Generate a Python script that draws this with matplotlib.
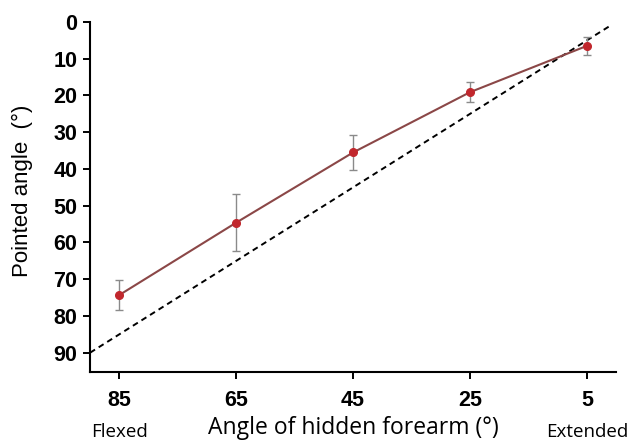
import matplotlib
matplotlib.use("Agg")
import matplotlib.pyplot as plt
import matplotlib.transforms as transforms
import numpy as np

# hidden forearm angle vs pointed angle
hidden = [85, 65, 45, 25, 5]
pointed = [74.3, 54.6, 35.5, 19.1, 6.5]
err = [4.2, 7.8, 4.8, 2.8, 2.5]
ident = [90, 0.7]

plt.rcParams['font.family'] = ['Liberation Sans', 'DejaVu Sans']

fig = plt.figure(figsize=(6.3, 4.4), dpi=100)
ax = fig.add_axes([0.143, 0.155, 0.835, 0.795])

ax.plot(ident, ident, color="black", linestyle=(0, (3, 2.2)), linewidth=1.4, zorder=1)
ax.errorbar(hidden, pointed, yerr=err, fmt="none", ecolor="#8a8a8a", elinewidth=1.0,
            capsize=3, capthick=1.0, zorder=2)
ax.plot(hidden, pointed, color="#8b4747", linewidth=1.5, zorder=3)
ax.plot(hidden, pointed, "o", color="#c1272d", markersize=5.5, zorder=4)

ax.set_xlim(90, 0)
ax.set_ylim(95.2, 0)
ax.set_xticks(hidden)
ax.set_yticks(np.arange(0, 100, 10))
ax.tick_params(labelsize=15.5, width=1.4, length=5)
ax.tick_params(axis="x", pad=8)
ax.tick_params(axis="y", pad=4)
for lab in ax.get_xticklabels() + ax.get_yticklabels():
    lab.set_fontweight("bold")

for s in ["top", "right"]:
    ax.spines[s].set_visible(False)
for s in ["left", "bottom"]:
    ax.spines[s].set_linewidth(1.5)

ax.set_ylabel("Pointed angle  (°)", fontsize=16)
ax.yaxis.set_label_coords(-0.108, 0.517)
ax.set_xlabel("Angle of hidden forearm (°)", fontsize=16.5, family=["Open Sans", "DejaVu Sans"],
              labelpad=4)

trans = transforms.blended_transform_factory(ax.transData, fig.transFigure)
ax.text(85, 0.018, "Flexed", transform=trans, ha="center", va="center", fontsize=13.5,
        family=["Open Sans", "DejaVu Sans"])
ax.text(5, 0.018, "Extended", transform=trans, ha="center", va="center", fontsize=13.5,
        family=["Open Sans", "DejaVu Sans"])

fig.savefig("out.png", dpi=100)
